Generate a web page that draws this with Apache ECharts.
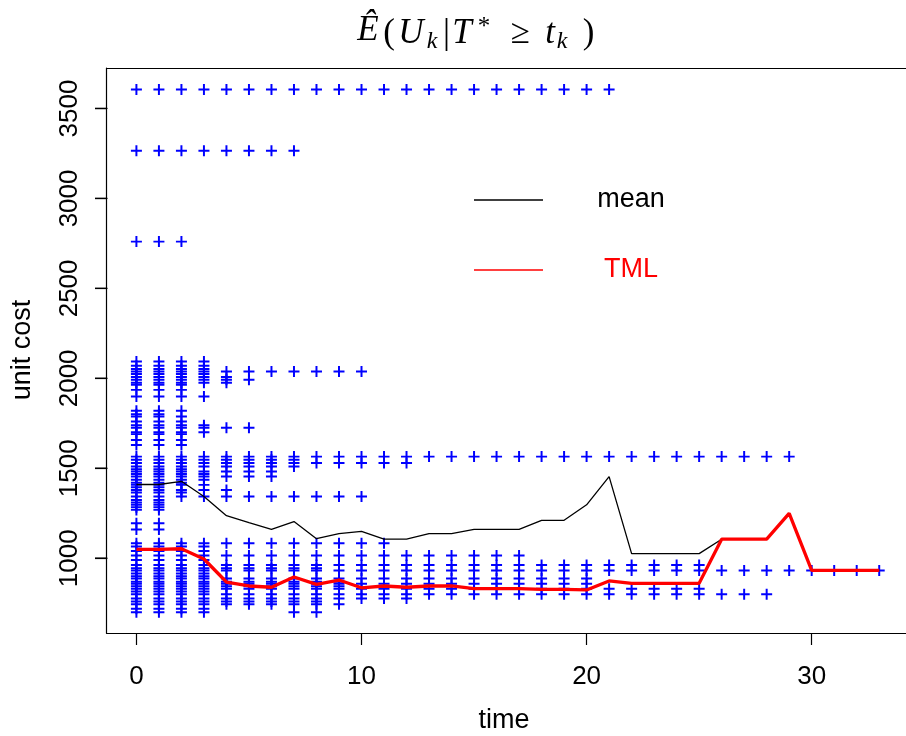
<!DOCTYPE html>
<html>
<head>
<meta charset="utf-8">
<script src="https://cdn.jsdelivr.net/npm/echarts@6/dist/echarts.min.js"></script>
<style>html,body{margin:0;padding:0;background:#fff}#c{width:906px;height:736px}</style>
</head>
<body>
<div id="c"></div>
<script>
// ---- data ----
const times = [0,1,2,3,4,5,6,7,8,9,10,11,12,13,14,15,16,17,18,19,20,21,22,23,24,25,26,27,28,29,30,31,32,33];
const meanCost = [1410,1410,1428,1343,1237,1198,1161,1204,1109,1137,1150,1106,1106,1137,1137,1161,1161,1161,1211,1211,1297,1454,1026,1026,1026,1026,1106,1106,1106,1250,933,933,933,933];
const tmlCost  = [1050,1050,1053,996,868,846,839,896,855,879,836,846,839,846,846,831,831,831,827,827,824,874,861,861,861,861,1106,1106,1106,1250,933,933,933,933];
// observed unit costs: value and first/last time at which it is still observed
const rowValue = [3605,3265,2760,
  2094,2070,2052,2038,2024,2008,1992,1975,1964,1936,1899,
  1820,1800,1788,1760,1740,1725,1700,1690,1658,1630,
  1565,1548,1530,1510,1495,1482,1468,1454,1436,1420,1408,1395,1380,1365,1343,1324,1310,1297,1283,1269,
  1195,1160,
  1083,1065,1040,1015,990,963,945,932,915,900,887,870,858,845,830,815,800,777,760,745,720,700,700];
const rowStart = [0,0,0,
  0,0,0,0,0,0,0,0,0,0,0,
  0,0,0,0,0,0,0,0,0,0,
  0,0,0,0,0,0,0,0,0,0,0,0,0,0,0,0,0,0,0,0,
  0,0,
  0,0,0,0,0,0,0,0,0,0,0,0,0,0,0,0,0,0,0,0,0,0,7];
const rowEnd = [21,7,2,
  3,3,3,10,3,4,5,4,2,2,3,
  2,1,2,2,3,5,3,2,2,2,
  29,7,12,7,2,6,3,6,3,2,3,1,4,2,10,1,1,1,1,1,
  1,1,
  11,3,3,17,3,25,8,33,3,3,20,9,20,9,25,3,28,12,8,9,3,3,8];
const xTicks = [0,10,20,30];
const yTicks = [1000,1500,2000,2500,3000,3500];

const xMin = -1.32, xMax = 34.19, yMin = 583, yMax = 3725;

const points = [];
rowValue.forEach(function (v, i) {
  for (let t = rowStart[i]; t <= rowEnd[i]; t++) points.push([t, v]);
});

const plus = 'path://M4.1,0H5.9V4.1H10V5.9H5.9V10H4.1V5.9H0V4.1H4.1Z';
const sans = 'Liberation Sans';
const serif = 'Liberation Serif';

function tx(str, x, y, size, italic) {
  return {
    type: 'text', x: x, y: y, silent: true,
    style: {
      text: str, font: (italic ? 'italic ' : '') + size + 'px "' + serif + '"',
      fill: '#000', textAlign: 'center', textVerticalAlign: 'middle', align: 'center', verticalAlign: 'middle'
    }
  };
}

function blackLine() { return {color: '#000', width: 1.2}; }

const chart = echarts.init(document.getElementById('c'), null, {renderer: 'canvas'});
chart.setOption({
  animation: false,
  backgroundColor: '#fff',
  grid: {left: 106.7, top: 68, right: 0, bottom: 102.7, show: false},
  xAxis: [{
    type: 'value', min: xMin, max: xMax,
    axisLine: {show: true, onZero: false, lineStyle: blackLine()}, splitLine: {show: false},
    axisTick: {show: true, length: 11.7, lineStyle: blackLine(), customValues: xTicks},
    axisLabel: {customValues: xTicks, margin: 31, fontSize: 26, fontFamily: sans, color: '#000',
      formatter: function (v) { return String(v); }}
  }, {
    type: 'value', position: 'top', min: xMin, max: xMax,
    axisLine: {show: true, onZero: false, lineStyle: blackLine()}, splitLine: {show: false},
    axisTick: {show: false}, axisLabel: {show: false}
  }],
  yAxis: {
    type: 'value', min: yMin, max: yMax,
    axisLine: {show: true, onZero: false, lineStyle: blackLine()}, splitLine: {show: false},
    axisTick: {show: true, length: 11.7, lineStyle: blackLine(), customValues: yTicks},
    axisLabel: {customValues: yTicks, rotate: 90, margin: 24, fontSize: 26, fontFamily: sans, color: '#000',
      formatter: function (v) { return String(v); }}
  },
  legend: {
    data: [{name: 'mean', textStyle: {color: '#000'}}, {name: 'TML', textStyle: {color: '#ff0000'}}],
    orient: 'vertical', left: 474, top: 182.5, padding: 0, itemGap: 35,
    itemWidth: 69, itemHeight: 1.5, icon: 'rect', selectedMode: false,
    formatter: function (n) { return '{a|' + n + '}'; },
    textStyle: {fontSize: 27, fontFamily: sans, lineHeight: 35,
      rich: {a: {width: 70, align: 'center', padding: [0, 0, 0, 48], fontSize: 27, fontFamily: sans, lineHeight: 35}}}
  },
  series: [
    {type: 'scatter', name: 'obs', data: points, symbol: plus, symbolSize: 11,
     itemStyle: {color: '#0000ff', opacity: 1}, silent: true, z: 2},
    {type: 'line', name: 'mean', data: times.map(function (t, i) { return [t, meanCost[i]]; }),
     showSymbol: false, symbol: 'none', color: '#000', lineStyle: {color: '#000', width: 1.3}, itemStyle: {color: '#000'}, z: 3},
    {type: 'line', name: 'TML', data: times.map(function (t, i) { return [t, tmlCost[i]]; }),
     showSymbol: false, symbol: 'none', color: '#ff0000', lineStyle: {color: '#ff0000', width: 3.3}, itemStyle: {color: '#ff0000'}, z: 4},
    // y-axis tick marks, placed through the axis scale, on a top canvas layer
    {type: 'custom', name: 'yticks', clip: false, z: 50, zlevel: 1,
     data: yTicks.map(function (v) { return [xMin, v]; }),
     renderItem: function (params, api) {
       const p = api.coord([api.value(0), api.value(1)]);
       return {type: 'rect', shape: {x: p[0] - 11.7, y: p[1] - 0.6, width: 12.3, height: 1.2},
               style: {fill: '#000'}};
     }}
  ],
  graphic: [
    {type: 'group', silent: true, children: [
      tx('Ê', 368, 31, 35, true),
      tx('(', 389, 33.5, 35, false),
      tx('U', 411, 33.5, 35, true),
      tx('k', 432, 42, 24, true),
      tx('|', 446.5, 33.5, 35, false),
      tx('T', 462, 33.5, 35, true),
      tx('*', 484, 27, 25, false),
      tx('≥', 520, 33.5, 35, false),
      tx('t', 550, 33.5, 35, true),
      tx('k', 562, 42, 24, true),
      tx(')', 588.5, 33.5, 35, false)
    ]},
    {type: 'text', x: 504, y: 721, silent: true,
     style: {text: 'time', font: '27px "' + sans + '"', fill: '#000', textAlign: 'center', textVerticalAlign: 'middle', align: 'center', verticalAlign: 'middle'}},
    {type: 'text', x: 23, y: 350, rotation: Math.PI / 2, silent: true,
     style: {text: 'unit cost', font: '27px "' + sans + '"', fill: '#000', textAlign: 'center', textVerticalAlign: 'middle', align: 'center', verticalAlign: 'middle'}}
  ]
});

// extra y ticks on a top layer, positioned with the chart's own y scale
const tickGraphics = yTicks.map(function (v, i) {
  const px = chart.convertToPixel({xAxisIndex: 0, yAxisIndex: 0}, [xMin, v]);
  return {type: 'rect', id: 'ytick' + i, zlevel: 2, z: 100, silent: true,
          shape: {x: px[0] - 11.7, y: px[1] - 0.6, width: 12.3, height: 1.2},
          style: {fill: '#000'}};
});
chart.setOption({graphic: tickGraphics});
</script>
</body>
</html>
